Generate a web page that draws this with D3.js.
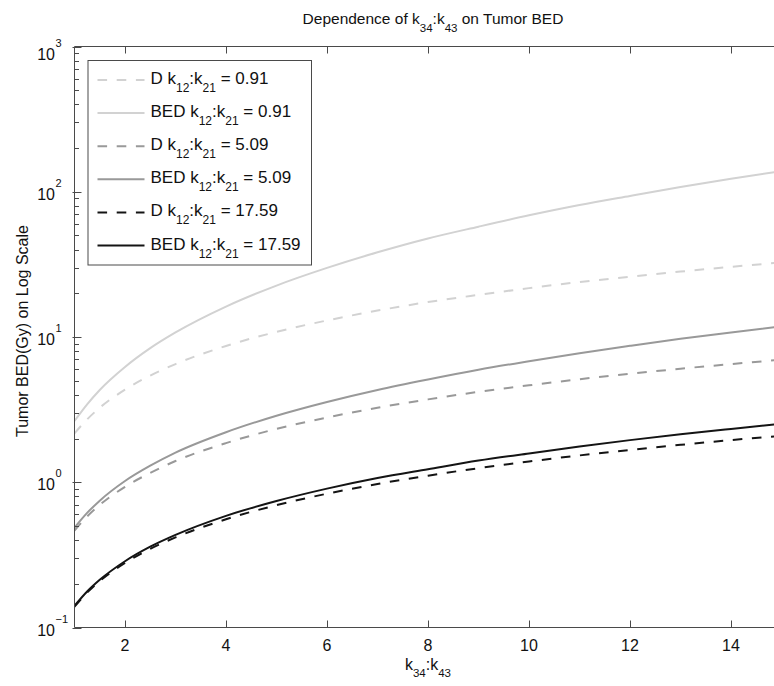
<!DOCTYPE html>
<html>
<head>
<meta charset="utf-8">
<script src="https://cdn.jsdelivr.net/npm/d3@7"></script>
<style>
  html, body { margin: 0; padding: 0; background: #fff; }
  svg { display: block; font-family: "Liberation Sans", Arial, Helvetica, sans-serif; }
</style>
</head>
<body>
<svg id="chart" width="774" height="686"></svg>
<script>
// k34:k43 ratio sampled along the x axis
const ratioK34K43 = [1, 1.25, 1.5, 2, 2.5, 3, 4, 5, 6, 7, 8, 9, 10, 11, 12, 13, 14, 15];

// Physical dose D and tumor BED (Gy) for each k12:k21 value
const dose091 = [2.17, 2.71, 3.26, 4.34, 5.43, 6.51, 8.68, 10.85, 13.0, 15.2, 17.4, 19.5, 21.7, 23.9, 26.0, 28.2, 30.4, 32.6];
const bed091  = [2.64, 3.44, 4.32, 6.22, 8.38, 10.75, 16.2, 22.6, 29.9, 38.3, 47.7, 57.5, 68.8, 81.0, 93.6, 107.7, 122.8, 138.9];
const dose509 = [0.465, 0.581, 0.698, 0.93, 1.16, 1.40, 1.86, 2.33, 2.79, 3.26, 3.72, 4.19, 4.65, 5.12, 5.58, 6.05, 6.51, 6.98];
const bed509  = [0.487, 0.615, 0.747, 1.02, 1.30, 1.60, 2.21, 2.87, 3.57, 4.32, 5.10, 5.95, 6.81, 7.74, 8.69, 9.71, 10.75, 11.85];
const dose1759 = [0.139, 0.174, 0.209, 0.278, 0.348, 0.417, 0.556, 0.695, 0.834, 0.973, 1.11, 1.25, 1.39, 1.53, 1.67, 1.81, 1.95, 2.09];
const bed1759  = [0.141, 0.177, 0.213, 0.286, 0.360, 0.434, 0.587, 0.743, 0.904, 1.07, 1.23, 1.41, 1.58, 1.76, 1.95, 2.14, 2.33, 2.53];

// Legend entries: prefix, k12:k21 value
const seriesPrefix = ["D", "BED", "D", "BED", "D", "BED"];
const seriesRatio  = ["0.91", "0.91", "5.09", "5.09", "17.59", "17.59"];

const xTicks = [2, 4, 6, 8, 10, 12, 14];
const yExponents = [-1, 0, 1, 2, 3];

const series = [
  { values: dose091,  color: "#d2d2d2", dashed: true },
  { values: bed091,   color: "#d2d2d2", dashed: false },
  { values: dose509,  color: "#999999", dashed: true },
  { values: bed509,   color: "#999999", dashed: false },
  { values: dose1759, color: "#141414", dashed: true },
  { values: bed1759,  color: "#141414", dashed: false }
].map((s, i) => ({ ...s, prefix: seriesPrefix[i], ratio: seriesRatio[i] }));

const svg = d3.select("#chart");
const axisColor = "#4a4a4a";
const dash = "9.6,9.6";

const plotLeft = 74.5, plotRight = 781.5, plotTop = 46.5, plotBottom = 627.5;
const x = d3.scaleLinear().domain([1, 15]).range([plotLeft, plotRight]);
const y = d3.scaleLog().domain([0.1, 1000]).range([plotBottom, plotTop]);

// Title
const title = svg.append("text")
  .attr("x", 433).attr("y", 24)
  .attr("text-anchor", "middle")
  .attr("font-size", 15.5)
  .attr("fill", "#111");
title.append("tspan").text("Dependence of k");
title.append("tspan").attr("dy", 8).attr("font-size", 11.5).text("34");
title.append("tspan").attr("dy", -8).text(":k");
title.append("tspan").attr("dy", 8).attr("font-size", 11.5).text("43");
title.append("tspan").attr("dy", -8).text(" on Tumor BED");

// Clip region for curves
svg.append("clipPath").attr("id", "plotClip")
  .append("rect").attr("x", plotLeft).attr("y", plotTop)
  .attr("width", plotRight - plotLeft).attr("height", plotBottom - plotTop);

// Curves
const line = d3.line()
  .x((d, i) => x(ratioK34K43[i]))
  .y(d => y(d))
  .curve(d3.curveMonotoneX);

const curves = svg.append("g").attr("clip-path", "url(#plotClip)");
series.forEach(s => {
  curves.append("path")
    .attr("d", line(s.values))
    .attr("fill", "none")
    .attr("stroke", s.color)
    .attr("stroke-width", 2)
    .attr("stroke-dasharray", s.dashed ? dash : null);
});

// Axes (box with inward ticks)
const axes = svg.append("g").attr("stroke", axisColor).attr("stroke-width", 1).attr("fill", "none");
axes.append("line").attr("x1", plotLeft).attr("x2", plotRight).attr("y1", plotBottom).attr("y2", plotBottom);
axes.append("line").attr("x1", plotLeft).attr("x2", plotRight).attr("y1", plotTop).attr("y2", plotTop);
axes.append("line").attr("x1", plotLeft).attr("x2", plotLeft).attr("y1", plotTop).attr("y2", plotBottom);
axes.append("line").attr("x1", plotRight).attr("x2", plotRight).attr("y1", plotTop).attr("y2", plotBottom);

xTicks.forEach(t => {
  const px = Math.round(x(t)) + 0.5;
  axes.append("line").attr("x1", px).attr("x2", px).attr("y1", plotBottom).attr("y2", plotBottom - 7);
  axes.append("line").attr("x1", px).attr("x2", px).attr("y1", plotTop).attr("y2", plotTop + 7);
});

const minorTicks = [];
for (let e = -1; e < 3; e++) for (let m = 2; m <= 9; m++) minorTicks.push(m * Math.pow(10, e));
minorTicks.forEach(v => {
  const py = Math.round(y(v)) + 0.5;
  axes.append("line").attr("x1", plotLeft).attr("x2", plotLeft + 4.5).attr("y1", py).attr("y2", py);
});
yExponents.forEach(e => {
  const py = Math.round(y(Math.pow(10, e))) + 0.5;
  axes.append("line").attr("x1", plotLeft - 2).attr("x2", plotLeft + 7).attr("y1", py).attr("y2", py);
});

// X tick labels
svg.append("g").selectAll("text").data(xTicks).join("text")
  .attr("x", d => x(d)).attr("y", 651)
  .attr("text-anchor", "middle")
  .attr("font-size", 16)
  .attr("fill", "#111")
  .text(d => d);

// Y tick labels: 10 with superscript exponent
yExponents.forEach(e => {
  const base = y(Math.pow(10, e)) + (e === 3 ? 13.5 : 8);
  svg.append("text")
    .attr("x", 55).attr("y", base)
    .attr("text-anchor", "end")
    .attr("font-size", 16)
    .attr("fill", "#111")
    .text("10");
  svg.append("text")
    .attr("x", 55.5).attr("y", base - 13)
    .attr("font-size", 11)
    .attr("fill", "#111")
    .text(e < 0 ? "\u2212" + Math.abs(e) : e);
});

// Axis labels
const xl = svg.append("text")
  .attr("x", 428).attr("y", 670)
  .attr("text-anchor", "middle")
  .attr("font-size", 16)
  .attr("fill", "#111");
xl.append("tspan").text("k");
xl.append("tspan").attr("dy", 7).attr("font-size", 11.5).text("34");
xl.append("tspan").attr("dy", -7).text(":k");
xl.append("tspan").attr("dy", 7).attr("font-size", 11.5).text("43");

svg.append("text")
  .attr("transform", "translate(28," + ((plotTop + plotBottom) / 2 - 6) + ") rotate(-90)")
  .attr("text-anchor", "middle")
  .attr("font-size", 16)
  .attr("fill", "#111")
  .text("Tumor BED(Gy) on Log Scale");

// Legend
const legend = svg.append("g");
legend.append("rect")
  .attr("x", 88).attr("y", 60.5).attr("width", 223.5).attr("height", 204.5)
  .attr("fill", "#fff").attr("stroke", axisColor).attr("stroke-width", 1);

series.forEach((s, i) => {
  const ly = 80 + i * 33.1;
  legend.append("line")
    .attr("x1", 97.5).attr("x2", 144.5).attr("y1", ly).attr("y2", ly)
    .attr("stroke", s.color).attr("stroke-width", 2)
    .attr("stroke-dasharray", s.dashed ? dash : null);
  const t = legend.append("text")
    .attr("x", 150.5).attr("y", ly + 4)
    .attr("font-size", 17)
    .attr("fill", "#111");
  t.append("tspan").text(s.prefix + " k");
  t.append("tspan").attr("dy", 8).attr("font-size", 12).text("12");
  t.append("tspan").attr("dy", -8).text(":k");
  t.append("tspan").attr("dy", 8).attr("font-size", 12).text("21");
  t.append("tspan").attr("dy", -8).text(" = " + s.ratio);
});
</script>
</body>
</html>
